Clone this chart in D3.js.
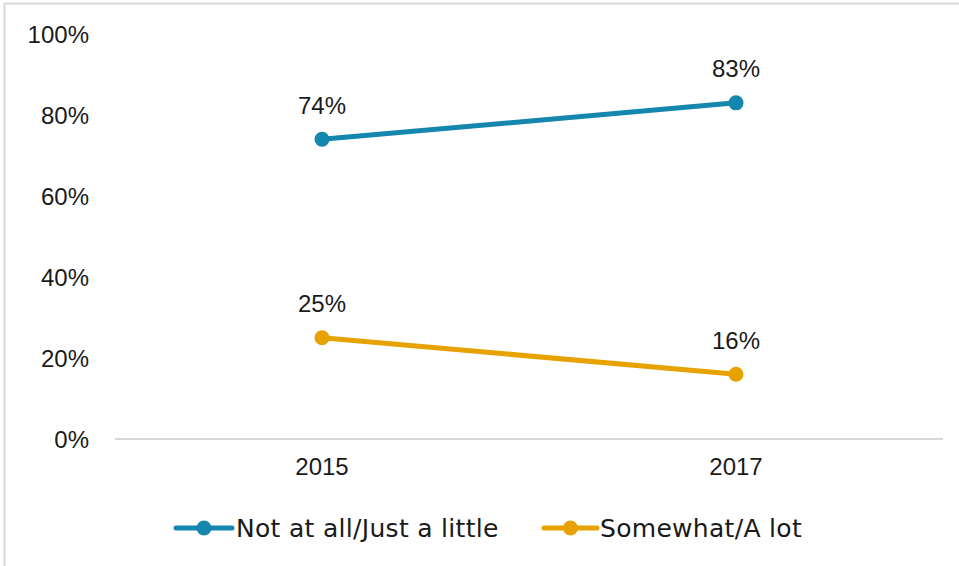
<!DOCTYPE html>
<html><head><meta charset="utf-8">
<script src="https://cdn.jsdelivr.net/npm/d3@7"></script>
<style>body{margin:0;background:#fff}svg{display:block}text{fill:#1a1a1a}</style>
</head><body><svg id="c" width="959" height="566"></svg>
<script>
const categories = ["2015", "2017"];
const seriesNames = ["Not at all/Just a little", "Somewhat/A lot"];
const notAtAll = [74, 83];
const somewhat = [25, 16];
const yTicks = [0, 20, 40, 60, 80, 100];
const colors = ["#1586AD", "#E8A200"];

const numFont = "'Liberation Sans', Arial, sans-serif";
const txtFont = "'DejaVu Sans', sans-serif";

const svg = d3.select("#c");
const W = 959, H = 566;
svg.append("path").attr("d", `M4.5,${H} L4.5,3.5 L${W},3.5`).attr("fill","none").attr("stroke","#d9d9d9").attr("stroke-width",2);

const x = d3.scaleBand().domain(categories).range([115, 943]);
const y = d3.scaleLinear().domain([0, 100]).range([439, 34]);

svg.append("line").attr("x1",115).attr("x2",943).attr("y1",y(0)).attr("y2",y(0)).attr("stroke","#d9d9d9").attr("stroke-width",2);

const yAxis = d3.axisLeft(y).tickValues(yTicks).tickFormat(d => d + "%").tickSize(0).tickPadding(0);
const gy = svg.append("g").attr("transform","translate(89,0)").call(yAxis);
gy.select(".domain").remove();
gy.selectAll("text").style("font-size","24px").style("font-family",numFont).attr("fill","#1a1a1a").attr("dy","0.35em");

const xAxis = d3.axisBottom(x).tickSize(0).tickPadding(0);
const gx = svg.append("g").attr("transform",`translate(0,${y(0)+22})`).call(xAxis);
gx.select(".domain").remove();
gx.selectAll("text").style("font-size","24px").style("font-family",numFont).attr("fill","#1a1a1a").attr("dy","0.6em");

const series = [notAtAll, somewhat];
const cx = (d,i) => x(categories[i]) + x.bandwidth()/2;
const line = d3.line().x(cx).y(d => y(d));
series.forEach((vals, s) => {
  svg.append("path").datum(vals).attr("d", line).attr("fill","none").attr("stroke",colors[s]).attr("stroke-width",5).attr("stroke-linecap","round");
  svg.selectAll(null).data(vals).enter().append("circle")
    .attr("cx",cx).attr("cy",d=>y(d)).attr("r",7.5).attr("fill",colors[s]);
  svg.selectAll(null).data(vals).enter().append("text")
    .attr("x",cx).attr("y",d=>y(d)-34).attr("dy","0.35em")
    .attr("text-anchor","middle").style("font-size","24px").style("font-family",numFont).text(d=>d+"%");
});

const legend = [{x0:176, x1:232, tx:236}, {x0:544, x1:597, tx:600}];
legend.forEach((l, s) => {
  const g = svg.append("g");
  g.append("line").attr("x1",l.x0).attr("x2",l.x1).attr("y1",528).attr("y2",528).attr("stroke",colors[s]).attr("stroke-width",5).attr("stroke-linecap","round");
  g.append("circle").attr("cx",(l.x0+l.x1)/2).attr("cy",528).attr("r",7.5).attr("fill",colors[s]);
  g.append("text").attr("x",l.tx).attr("y",528).attr("dy","0.35em").style("font-size","25px").style("font-family",txtFont).style("letter-spacing","0.3px").text(seriesNames[s]);
});
</script></body></html>
